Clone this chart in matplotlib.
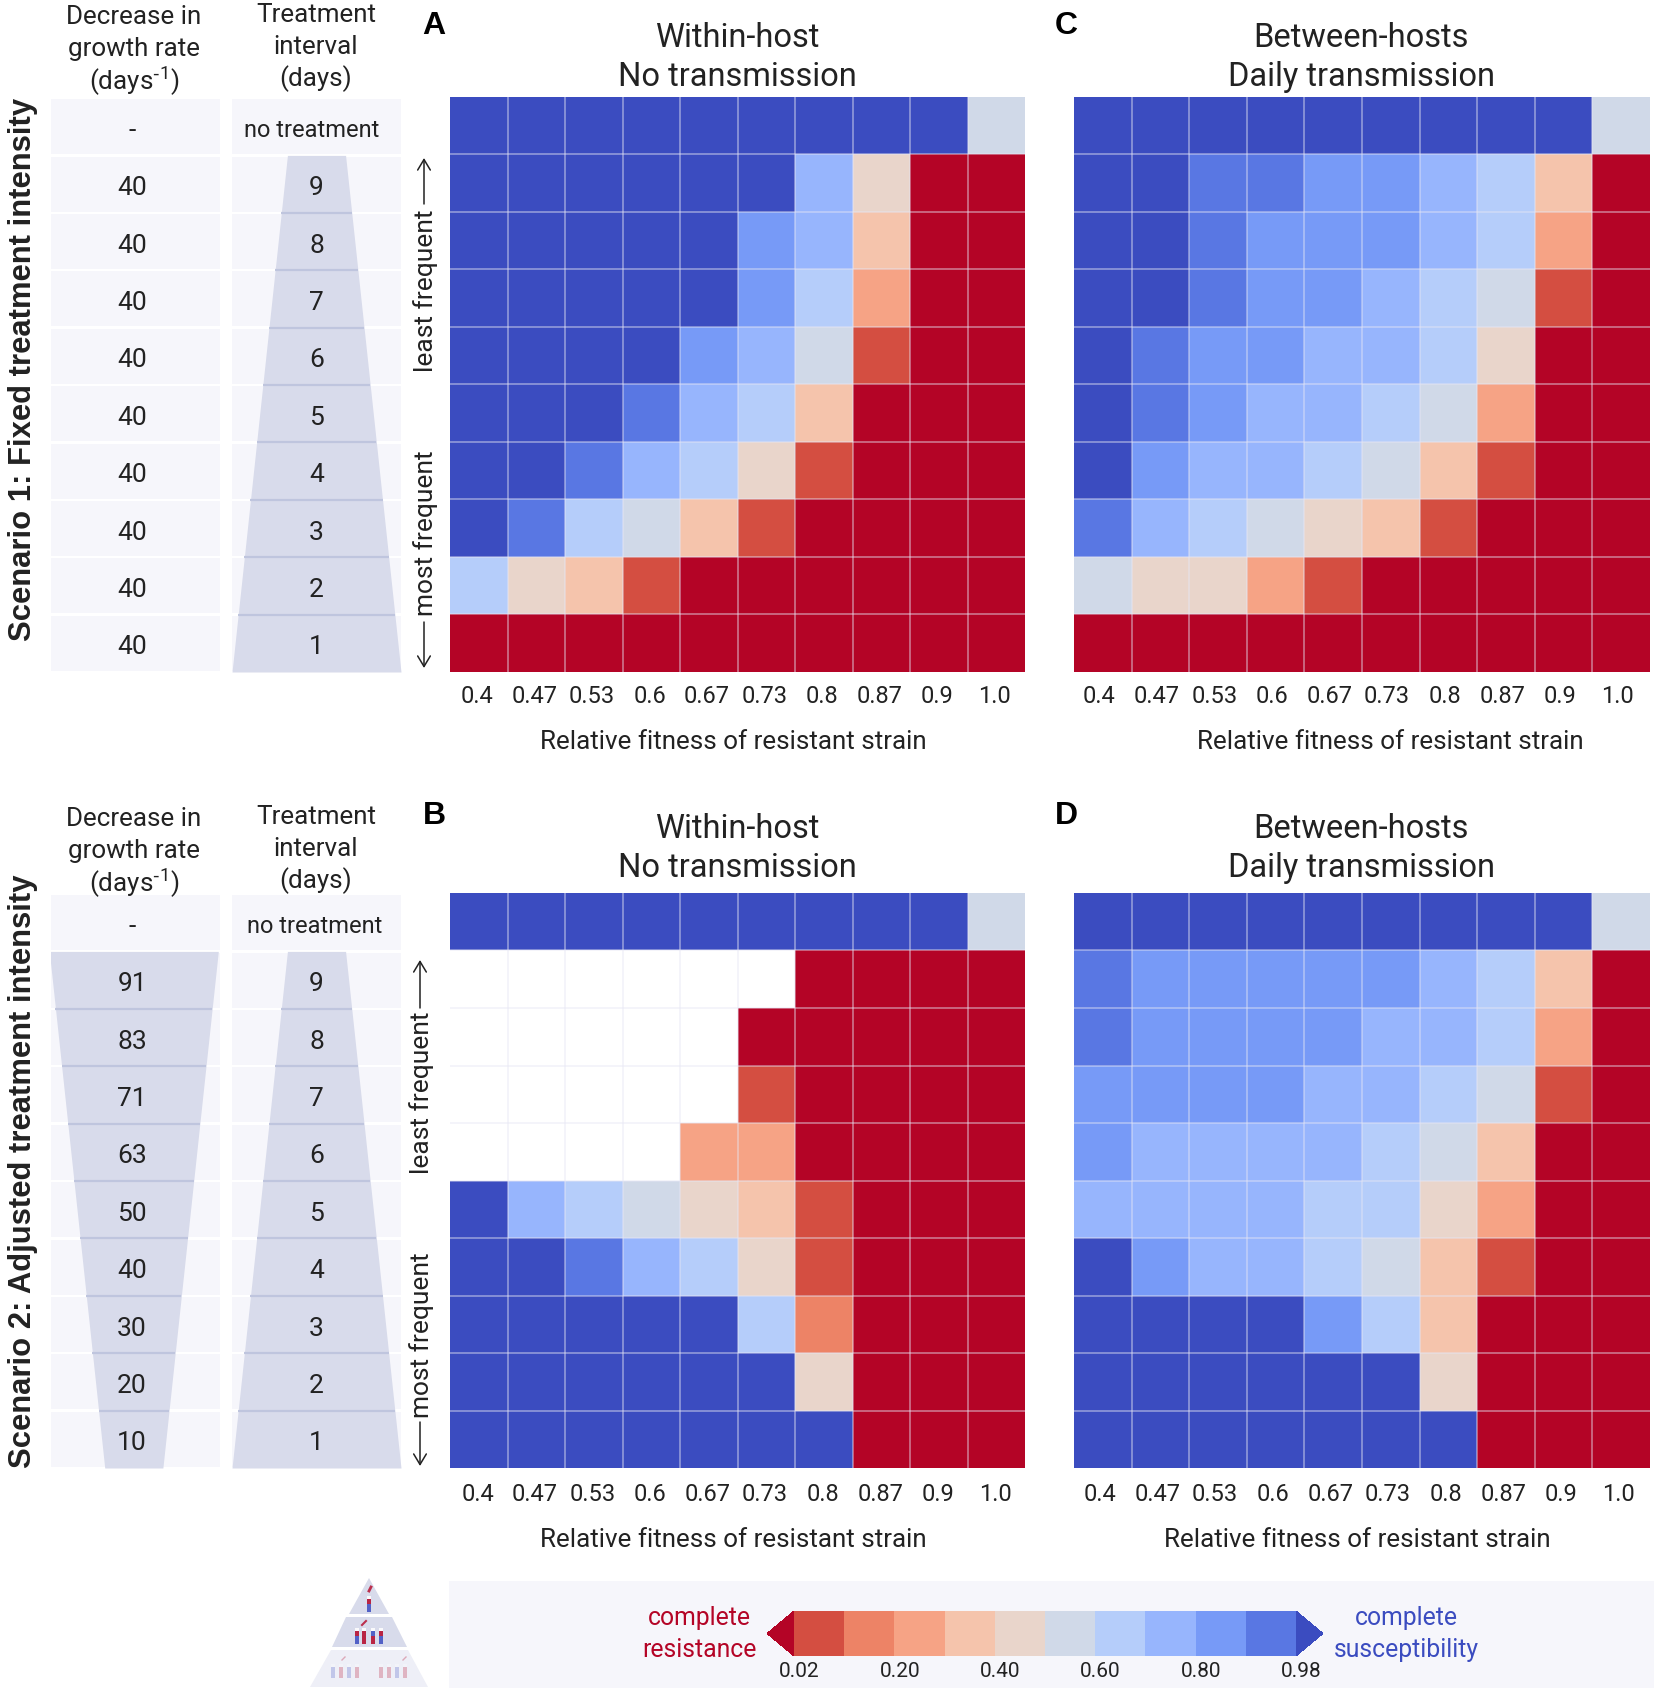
import numpy as np
import matplotlib
matplotlib.use("Agg")
import matplotlib.pyplot as plt
from matplotlib.colors import ListedColormap, BoundaryNorm
from matplotlib.cm import ScalarMappable
from matplotlib.patches import Polygon, Rectangle, FancyArrowPatch
from matplotlib.transforms import ScaledTranslation

plt.rcParams['font.family'] = ['Roboto', 'DejaVu Sans']
plt.rcParams['mathtext.default'] = 'regular'

# ---------- data ----------
S, R, N = 0.99, 0.01, np.nan   # complete susceptibility, complete resistance, no data
fitness_labels = ['0.4', '0.47', '0.53', '0.6', '0.67', '0.73', '0.8', '0.87', '0.9', '1.0']
interval_labels = ['no treatment', '9', '8', '7', '6', '5', '4', '3', '2', '1']
decrease_fixed = ['-', '40', '40', '40', '40', '40', '40', '40', '40', '40']
decrease_adjusted = ['-', '91', '83', '71', '63', '50', '40', '30', '20', '10']
top_row = [S, S, S, S, S, S, S, S, S, .55]

panel_a = [top_row,
           [S, S, S, S, S, S, .75, .45, R, R],
           [S, S, S, S, S, .85, .75, .35, R, R],
           [S, S, S, S, S, .85, .65, .25, R, R],
           [S, S, S, S, .85, .75, .55, .06, R, R],
           [S, S, S, .94, .75, .65, .35, R, R, R],
           [S, S, .94, .75, .65, .45, .06, R, R, R],
           [S, .94, .65, .55, .35, .06, R, R, R, R],
           [.65, .45, .35, .06, R, R, R, R, R, R],
           [R, R, R, R, R, R, R, R, R, R]]
panel_c = [top_row,
           [S, S, .94, .94, .85, .85, .75, .65, .35, R],
           [S, S, .94, .85, .85, .85, .75, .65, .25, R],
           [S, S, .94, .85, .85, .75, .65, .55, .06, R],
           [S, .94, .85, .85, .75, .75, .65, .45, R, R],
           [S, .94, .85, .75, .75, .65, .55, .25, R, R],
           [S, .85, .75, .75, .65, .55, .35, .06, R, R],
           [.94, .75, .65, .55, .45, .35, .06, R, R, R],
           [.55, .45, .45, .25, .06, R, R, R, R, R],
           [R, R, R, R, R, R, R, R, R, R]]
panel_b = [top_row,
           [N, N, N, N, N, N, R, R, R, R],
           [N, N, N, N, N, R, R, R, R, R],
           [N, N, N, N, N, .06, R, R, R, R],
           [N, N, N, N, .25, .25, R, R, R, R],
           [S, .75, .65, .55, .45, .35, .06, R, R, R],
           [S, S, .94, .75, .65, .45, .06, R, R, R],
           [S, S, S, S, S, .65, .15, R, R, R],
           [S, S, S, S, S, S, .45, R, R, R],
           [S, S, S, S, S, S, S, R, R, R]]
panel_d = [top_row,
           [.94, .85, .85, .85, .85, .85, .75, .65, .35, R],
           [.94, .85, .85, .85, .85, .75, .75, .65, .25, R],
           [.85, .85, .85, .85, .75, .75, .65, .55, .06, R],
           [.85, .75, .75, .75, .75, .65, .55, .35, R, R],
           [.75, .75, .75, .75, .65, .65, .45, .25, R, R],
           [S, .85, .75, .75, .65, .55, .35, .06, R, R],
           [S, S, S, S, .85, .65, .35, R, R, R],
           [S, S, S, S, S, S, .45, R, R, R],
           [S, S, S, S, S, S, S, R, R, R]]

bin_edges = [.02, .1, .2, .3, .4, .5, .6, .7, .8, .9, .98]
bin_colors = ['#d44e41', '#ed8366', '#f6a385', '#f5c4ac', '#e9d5cb',
              '#d0d9e8', '#b5cdfa', '#97b5fd', '#779af7', '#5977e3']
cbar_ticks = [.02, .2, .4, .6, .8, .98]
cbar_ticklabels = ['0.02', '0.20', '0.40', '0.60', '0.80', '0.98']

# ---------- figure helpers ----------
W, H = 1654, 1692
fig = plt.figure(figsize=(W / 100, H / 100), dpi=100, facecolor='white')

def axes_px(x0, y0, x1, y1, **kw):
    return fig.add_axes([x0 / W, 1 - y1 / H, (x1 - x0) / W, (y1 - y0) / H], **kw)

ov = axes_px(0, 0, W, H, zorder=5)
ov.set_xlim(0, W); ov.set_ylim(H, 0); ov.axis('off'); ov.patch.set_alpha(0)
bg = axes_px(0, 0, W, H, zorder=0)
bg.set_xlim(0, W); bg.set_ylim(H, 0); bg.axis('off')

cmap = ListedColormap(bin_colors)
cmap.set_under('#b40426'); cmap.set_over('#3b4cc0')
norm = BoundaryNorm(bin_edges, cmap.N)

TXT = '#222222'
FS_TITLE, FS_TICK, FS_LABEL, FS_HEAD, FS_DIGIT = 23.5, 17, 18.7, 18.7, 19

def heatmap(x0, y0, x1, y1, data, label_cx, tick_off, tick_pad, label_dy):
    ax = axes_px(x0, y0, x1, y1, zorder=2)
    arr = np.ma.masked_invalid(np.array(data, dtype=float))
    n_r, n_c = arr.shape
    ax.pcolormesh(np.arange(n_c + 1), np.arange(n_r + 1), arr, cmap=cmap, norm=norm,
                  edgecolors='none', antialiased=False)
    ax.set_xlim(0, n_c); ax.set_ylim(n_r, 0)
    ax.vlines(np.arange(1, n_c), 0, n_r, color='#e6e6f4', alpha=.55, lw=1.1)
    ax.hlines(np.arange(1, n_r), 0, n_c, color='#e6e6f4', alpha=.55, lw=1.1)
    ax.set_xticks(np.arange(n_c) + .5 + tick_off)
    ax.set_xticklabels(fitness_labels, fontsize=FS_TICK, color=TXT)
    ax.set_yticks([])
    ax.tick_params(length=0, pad=tick_pad)
    for s in ax.spines.values():
        s.set_visible(False)
    ov.text(label_cx, y1 + label_dy, 'Relative fitness of resistant strain', ha='center', va='center',
            fontsize=FS_LABEL, color=TXT)
    return ax

def table(x0, y0, x1, y1, labels, text_cx, nt_cx, shape=None, center=.5):
    """shape: None, or (half-width at first treated row, half-width at bottom)"""
    ax = axes_px(x0, y0, x1, y1, zorder=2)
    n = len(labels)
    rows = np.arange(n)
    ax.barh(rows + .5, [1] * n, height=.955, left=0, color='#f6f6fb')
    ax.set_xlim(0, 1); ax.set_ylim(n, 0); ax.axis('off')
    if shape is not None:
        ys = np.array([1., n])
        half = np.array(shape)
        ax.fill_betweenx(ys, center - half, center + half, color='#d8dbeb', lw=0)
        for r in rows[2:]:
            h = np.interp(r, ys, half)
            ax.plot([center - h, center + h], [r, r], color='#bfc5de', lw=1.6, solid_capstyle='butt')
    for r, t in zip(rows, labels):
        if t == 'no treatment':
            ax.text(nt_cx, r + .57, t, ha='center', va='center', fontsize=17, color=TXT)
        else:
            ax.text(text_cx, r + .57, t, ha='center', va='center', fontsize=FS_DIGIT, color=TXT)
    return ax

def side_arrows(x, ytop, ybot, least_top, least_bot, most_top, most_bot):
    ov.text(x, (least_top + least_bot) / 2, 'least frequent', rotation=90, ha='center', va='center',
            fontsize=19, color=TXT)
    ov.text(x, (most_top + most_bot) / 2, 'most frequent', rotation=90, ha='center', va='center',
            fontsize=19, color=TXT)
    xa = x - 2
    for a, b in [((xa, least_top - 6), (xa, ytop)), ((xa, most_bot + 6), (xa, ybot))]:
        ov.add_patch(FancyArrowPatch(a, b, arrowstyle='->,head_length=4,head_width=2.4',
                                     mutation_scale=1.9, lw=1.1, color=TXT, shrinkA=0, shrinkB=0))

AX0, AX1, CX0, CX1 = 450, 1025, 1074, 1650
TAB1, TAB2 = (51, 220), (232, 401)
narrow, wide = .172, .5

layout = [
    (97, 672, decrease_fixed, None, panel_a, panel_c, 'Scenario 1: Fixed treatment intensity', 641,
     (426, 158, 668, 210, 372, 451, 616), 0, 0, -.03, -.065, 9.5, 70, 1390, .47),
    (893, 1468, decrease_adjusted, (wide, narrow), panel_b, panel_d,
     'Scenario 2: Adjusted treatment intensity', 1468,
     (422, 960, 1466, 1014, 1172, 1254, 1416), 791, 802, -.02, -.05, 11, 72, 1357, .49),
]
for (y0, y1, dec, dec_shape, lp, rp, s_title, s_bot, side, tdy, base, a_off, c_off, pad, ldy, rlab, nt) in layout:
    heatmap(AX0, y0, AX1, y1, lp, 733, a_off, pad, ldy)
    heatmap(CX0, y0, CX1, y1, rp, rlab, c_off, pad, ldy)
    table(TAB1[0], y0 + 1, TAB1[1], y1, dec, .48, .48, dec_shape, center=.49)
    table(TAB2[0], y0 + 1, TAB2[1], y1, interval_labels, .5, nt, (narrow, wide))
    for cx, (t1, t2) in [(737, ('Within-host', 'No transmission')),
                         (1361, ('Between-hosts', 'Daily transmission'))]:
        ov.text(cx, 38 + tdy, t1, ha='center', va='center', fontsize=FS_TITLE, color=TXT)
        ov.text(cx, 77 + tdy, t2, ha='center', va='center', fontsize=FS_TITLE, color=TXT)
    for cx, y_start, lines in [(134, 17, ['Decrease in', 'growth rate', r'(days$^{\text{-}1}$)']),
                               (316, 15, ['Treatment', 'interval', '(days)'])]:
        for k, t in enumerate(lines):
            ov.text(cx, y_start + k * 32 + base, t, ha='center', va='center', fontsize=FS_HEAD, color=TXT)
    ov.text(23, s_bot, s_title, rotation=90, ha='center', va='bottom', fontsize=22.3,
            fontweight='bold', family='Liberation Sans', color='#222222')
    side_arrows(*side)

for letter, x, y in [('A', 434, 26), ('C', 1066, 26), ('B', 434, 816), ('D', 1066, 816)]:
    ov.text(x, y, letter, ha='center', va='center', fontsize=23, fontweight='bold',
            family='Liberation Sans', color='black')

# ---------- legend band ----------
bg.add_patch(Rectangle((449, 1581), W - 449, 107, color='#f6f6fb', lw=0))
cax = axes_px(767, 1611, 1323, 1656, zorder=3)
cb = fig.colorbar(ScalarMappable(norm=norm, cmap=cmap), cax=cax, orientation='horizontal',
                  extend='both', extendfrac=.054, ticks=cbar_ticks, spacing='uniform')
cb.ax.set_xticklabels(cbar_ticklabels, fontsize=15, color=TXT)
cb.ax.minorticks_off()
cb.ax.tick_params(which='both', length=0, pad=4)
cb.outline.set_visible(False)
shift = ScaledTranslation(5.4 / 100, 0, fig.dpi_scale_trans)
for lbl in cb.ax.get_xticklabels():
    lbl.set_transform(lbl.get_transform() + shift)
ov.text(699, 1618, 'complete', ha='center', va='center', fontsize=17.8, color='#b40426')
ov.text(699, 1650, 'resistance', ha='center', va='center', fontsize=17.8, color='#b40426')
ov.text(1406, 1618, 'complete', ha='center', va='center', fontsize=17.8, color='#3b4cc0')
ov.text(1406, 1650, 'susceptibility', ha='center', va='center', fontsize=17.8, color='#3b4cc0')

# ---------- pyramid icon ----------
for pts, c in [([(369, 1578), (389, 1614), (349, 1614)], '#d8dbeb'),
               ([(346, 1617), (392, 1617), (407, 1647), (332, 1647)], '#d8dbeb'),
               ([(331, 1650), (408, 1650), (428, 1687), (310, 1687)], '#eeeff7')]:
    ov.add_patch(Polygon(pts, closed=True, color=c, lw=0))

def tube(x, y0, y1, top, low, alpha=1.0, w=4):
    ym = y0 + (y1 - y0) * .2
    ymm = y0 + (y1 - y0) * .5
    ov.add_patch(Rectangle((x - w / 2, y0), w, ym - y0, color='white', lw=0, alpha=alpha))
    ov.add_patch(Rectangle((x - w / 2, ym), w, ymm - ym, color=top, lw=0, alpha=alpha))
    ov.add_patch(Rectangle((x - w / 2, ymm), w, y1 - ymm, color=low, lw=0, alpha=alpha))

tube(369, 1596, 1612, '#b40426', '#3b4cc0', alpha=.85)
for x, (a, b) in zip([357, 364, 373, 381], [('#b40426', '#3b4cc0'), ('#b40426', '#b40426'),
                                            ('#3b4cc0', '#b40426'), ('#b40426', '#3b4cc0')]):
    tube(x, 1628, 1644, a, b, alpha=.85)
for x, a in zip([333, 341, 349, 357, 381, 389, 397, 405], [0, 1, 0, 1, 1, 1, 0, 1]):
    tube(x, 1664, 1678, '#b40426' if a else '#3b4cc0', '#3b4cc0' if not a else '#b40426', alpha=.25)
ov.plot([369, 371], [1591, 1587], color='#b40426', lw=2, alpha=.8)
ov.plot([362, 366], [1625, 1621], color='#b40426', lw=1.5, alpha=.8)
ov.plot([342, 345], [1660, 1657], color='#b40426', lw=1, alpha=.3)
ov.plot([403, 406], [1660, 1657], color='#b40426', lw=1, alpha=.3)

fig.savefig('out.png', dpi=100, facecolor='white')
